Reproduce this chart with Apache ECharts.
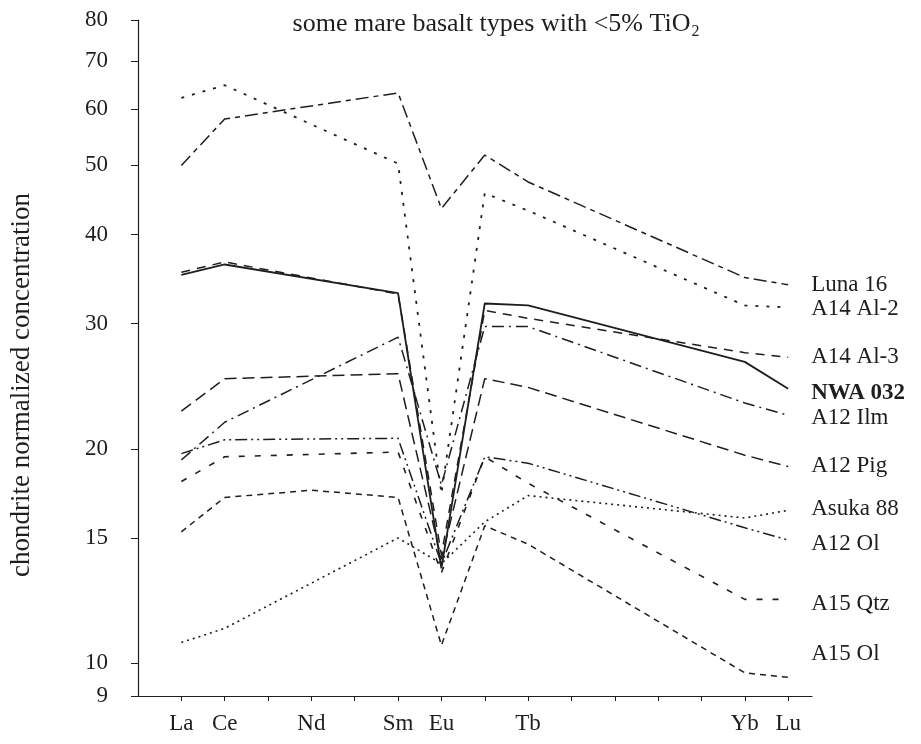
<!DOCTYPE html>
<html>
<head>
<meta charset="utf-8">
<script src="https://cdn.jsdelivr.net/npm/echarts@6/dist/echarts.min.js"></script>
<style>html,body{margin:0;padding:0;background:#fff}#c{width:921px;height:744px}</style>
</head>
<body>
<div id="c"></div>
<script>
// Elements (x positions = atomic number)
const elements = ['La','Ce','Nd','Sm','Eu','Gd','Tb','Yb','Lu'];
const atomicNumbers = [57,58,60,62,63,64,65,70,71];
const axisLabelElements = {57:'La',58:'Ce',60:'Nd',62:'Sm',63:'Eu',65:'Tb',70:'Yb',71:'Lu'};
const yTicks = [9,10,15,20,30,40,50,60,70,80];

// chondrite-normalized values, order as in `elements`
const luna16   = [50.0, 58.1, null, 63.2, 43.5, 51.7, 47.4, 34.8, 34.0];
const a14al2   = [62.2, 64.8, null, 50.3, 17.3, 45.7, 43.2, 31.8, 31.6];
const a14al3   = [35.4, 36.6, null, 33.0, 14.2, 31.3, 30.5, 27.3, 26.9];
const nwa032   = [35.1, 36.3, null, 33.1, 13.6, 32.0, 31.8, 26.5, 24.3];
const a12ilm   = [19.3, 21.8, null, 28.7, 17.8, 29.7, 29.7, 23.2, 22.3];
const a12pig   = [22.6, 25.1, null, 25.5, 14.0, 25.1, 24.4, 19.6, 18.9];
const asuka88  = [10.7, 11.2, null, 15.0, 13.8, 15.8, 17.2, 16.0, 16.4];
const a12ol    = [19.7, 20.6, null, 20.7, 13.8, 19.5, 19.1, 15.5, 14.9];
const a15qtz   = [18.0, 19.5, null, 19.8, 13.4, 19.5, 17.9, 12.3, 12.3];
const a15ol    = [15.3, 17.1, 17.5, 17.1, 10.6, 15.6, 14.7,  9.7,  9.56];

const seriesDefs = [
  {name:'Luna 16',  values:luna16,  dash:[13,5,5,5], w:1.5, oy:0},
  {name:'A14 Al-2', values:a14al2,  dash:[3,8],      w:1.8, oy:2},
  {name:'A14 Al-3', values:a14al3,  dash:[9,7],      w:1.5, oy:0},
  {name:'NWA 032',  values:nwa032,  dash:'solid',    w:1.8, oy:4, bold:true},
  {name:'A12 Ilm',  values:a12ilm,  dash:[12,5,2,5], w:1.5, oy:3},
  {name:'A12 Pig',  values:a12pig,  dash:[12,6],     w:1.5, oy:0},
  {name:'Asuka 88', values:asuka88, dash:[2,4],      w:1.6, oy:-1},
  {name:'A12 Ol',   values:a12ol,   dash:[12,4,2,4,2,4], w:1.5, oy:4},
  {name:'A15 Qtz',  values:a15qtz,  dash:[6,10],     w:1.6, oy:5},
  {name:'A15 Ol',   values:a15ol,   dash:[6,5],      w:1.5, oy:-23}
];

const FONT = '"Liberation Serif","Times New Roman",serif';
const INK = '#1e1e1e';

const series = seriesDefs.map(d => ({
  name: d.name,
  type: 'line',
  symbol: 'none',
  silent: true,
  connectNulls: true,
  data: atomicNumbers.map((x,i) => d.values[i] == null ? null : [x, d.values[i]]).filter(p => p),
  lineStyle: {color: INK, width: d.w, type: d.dash},
  endLabel: {
    show: true,
    formatter: d.name,
    distance: 23,
    offset: [0, d.oy],
    color: INK,
    fontFamily: FONT,
    fontSize: 23,
    fontWeight: d.bold ? 'bold' : 'normal'
  }
}));

const chart = echarts.init(document.getElementById('c'), null, {renderer:'canvas'});
chart.setOption({
  backgroundColor: '#fff',
  animation: false,
  title: {
    text: '{a|some mare basalt types with <5% TiO}{s|2}',
    left: 491, top: 3, textAlign: 'center',
    textStyle: {
      fontWeight: 'normal',
      rich: {
        a: {fontFamily: FONT, fontSize: 26, fontWeight: 'normal', color: INK, lineHeight: 32},
        s: {fontFamily: FONT, fontSize: 16, fontWeight: 'normal', color: INK, lineHeight: 32, padding: [15,0,0,1]}
      }
    }
  },
  grid: {left: 138, right: 109, top: 20, bottom: 48, containLabel: false},
  xAxis: {
    type: 'value', min: 56, max: 71.55, interval: 1,
    splitLine: {show: false},
    axisLine: {lineStyle: {color: INK, width: 1.2}},
    axisTick: {show: true, length: 5, customValues: [57,58,59,60,61,62,63,64,65,66,67,68,69,70,71], lineStyle: {color: INK}},
    axisLabel: {
      customValues: [57,58,60,62,63,65,70,71],
      formatter: v => axisLabelElements[Math.round(v)] || '',
      fontFamily: FONT, fontSize: 23, color: INK, margin: 16
    }
  },
  yAxis: {
    type: 'log', logBase: 10, min: 9, max: 80,
    name: 'chondrite normalized concentration',
    nameLocation: 'middle', nameGap: 103, nameRotate: 90,
    nameTextStyle: {fontFamily: FONT, fontSize: 27, color: INK, padding: [0, 54, 0, 0]},
    splitLine: {show: false},
    axisLine: {show: true, lineStyle: {color: INK, width: 1.2}},
    axisTick: {show: true, length: 7, customValues: yTicks, lineStyle: {color: INK}},
    axisLabel: {
      customValues: yTicks,
      formatter: v => String(Math.round(v)),
      fontFamily: FONT, fontSize: 23, color: INK, margin: 30
    }
  },
  series: series
});
</script>
</body>
</html>
